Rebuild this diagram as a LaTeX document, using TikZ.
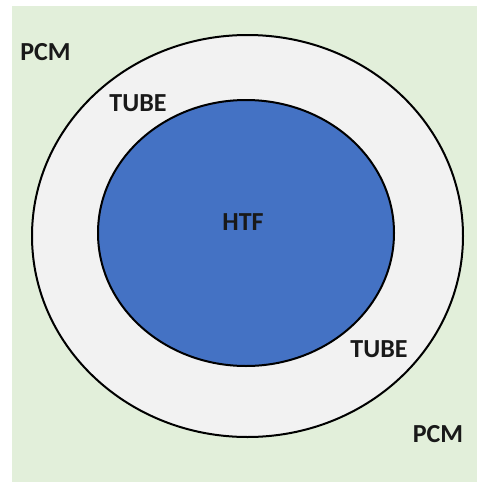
\documentclass[tikz,border=0pt]{standalone}
\usepackage{fontspec}
\setmainfont{Carlito}
\definecolor{pcmgreen}{HTML}{E2EFDA}
\definecolor{tubegrey}{HTML}{F2F2F2}
\definecolor{htfblue}{HTML}{4472C4}
\begin{document}
\begin{tikzpicture}[x=1pt,y=-1pt,
  lbl/.style={font=\fontsize{26}{28}\selectfont\bfseries, text=black!90, inner sep=0pt},
  ring/.style={draw=black, line width=2pt}]
  \useasboundingbox (0,0) rectangle (477,485);
  % phase-change material region
  \fill[pcmgreen] (12,6) rectangle (477,482);
  % tube wall and heat transfer fluid
  \draw[ring, fill=tubegrey] (247.5,236) ellipse [x radius=215.5, y radius=201];
  \draw[ring, fill=htfblue] (246,233) ellipse [x radius=148, y radius=133];
  % labels
  \node[lbl] (pcm1) at (45.5,52) {PCM};
  \node[lbl] (tube1) at (138,103) {TUBE};
  \node[lbl] (htf) at (243,222) {HTF};
  \node[lbl] (tube2) at (379,349.5) {TUBE};
  \node[lbl] (pcm2) at (438,434.5) {PCM};
\end{tikzpicture}
\end{document}
